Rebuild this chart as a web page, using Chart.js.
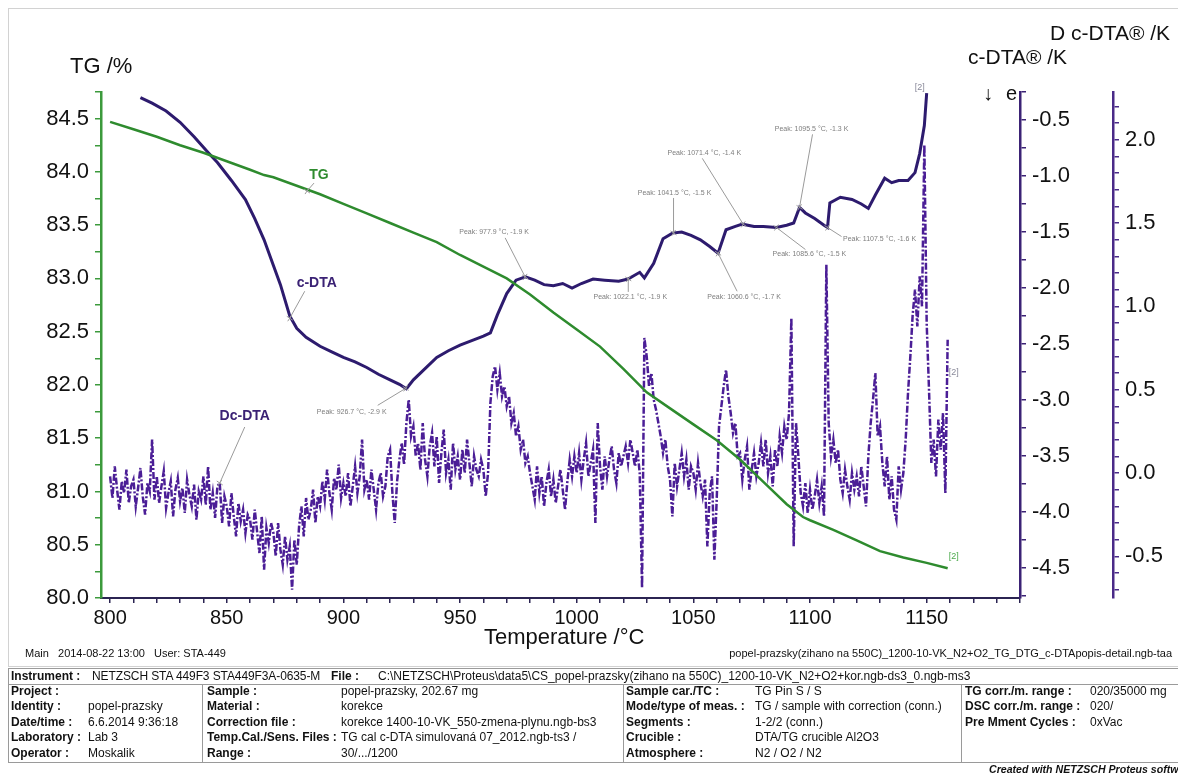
<!DOCTYPE html>
<html><head><meta charset="utf-8">
<script src="https://cdn.jsdelivr.net/npm/chart.js@4/dist/chart.umd.min.js"></script>
<style>
body{margin:0;width:1178px;height:774px;overflow:hidden;background:#fff;font-family:"Liberation Sans",Arial,sans-serif;position:relative;color:#111}
.a{position:absolute;white-space:nowrap;line-height:14px}
.t{position:absolute;white-space:nowrap;color:#111}
.b{font-weight:bold}
.s{font-size:12px}
#frame{position:absolute;left:8px;top:8px;width:1190px;height:657px;border:1px solid #d2d2d2}
#wrap{position:absolute;left:0;top:0;width:1178px;height:650px}
.box{position:absolute;border:1px solid #9a9a9a}
.vl{position:absolute;top:684px;height:78px;width:0;border-left:1px solid #9a9a9a}
</style></head>
<body>
<div id="frame"></div>
<div id="wrap"><canvas id="c" width="1178" height="650"></canvas></div>

<div class="t" style="left:70px;top:54px;font-size:22px;line-height:24px">TG /%</div>
<div class="t" style="left:968px;top:45px;font-size:21px;line-height:24px">c-DTA® /K</div>
<div class="t" style="left:1050px;top:21px;font-size:21px;line-height:24px">D c-DTA® /K</div>
<div class="t" style="left:983px;top:81px;font-size:20px;line-height:24px">↓</div>
<div class="t" style="left:1006px;top:81px;font-size:20px;line-height:24px">e</div>
<div class="t" style="left:484px;top:624px;font-size:22px;line-height:26px">Temperature /°C</div>

<div class="a" style="left:25px;top:646px;font-size:11px">Main&nbsp;&nbsp; 2014-08-22 13:00&nbsp;&nbsp; User: STA-449</div>
<div class="a" style="right:6px;top:646px;font-size:11px">popel-prazsky(zihano na 550C)_1200-10-VK_N2+O2_TG_DTG_c-DTApopis-detail.ngb-taa</div>

<div class="box" style="left:8px;top:668px;width:1190px;height:15px"></div>
<div class="box" style="left:8px;top:684px;width:1190px;height:77px"></div>
<div class="vl" style="left:202px"></div>
<div class="vl" style="left:623px"></div>
<div class="vl" style="left:961px"></div>

<div class="a s" style="left:11px;top:669px"><b>Instrument :</b></div>
<div class="a s" style="left:92px;top:669px;letter-spacing:-0.1px">NETZSCH STA 449F3 STA449F3A-0635-M</div>
<div class="a s" style="left:331px;top:669px"><b>File :</b></div>
<div class="a s" style="left:378px;top:669px">C:\NETZSCH\Proteus\data5\CS_popel-prazsky(zihano na 550C)_1200-10-VK_N2+O2+kor.ngb-ds3_0.ngb-ms3</div>

<div class="a s b" style="left:11px;top:684px">Project :</div>
<div class="a s b" style="left:11px;top:699px">Identity :</div>
<div class="a s" style="left:88px;top:699px">popel-prazsky</div>
<div class="a s b" style="left:11px;top:715px">Date/time :</div>
<div class="a s" style="left:88px;top:715px">6.6.2014 9:36:18</div>
<div class="a s b" style="left:11px;top:730px">Laboratory :</div>
<div class="a s" style="left:88px;top:730px">Lab 3</div>
<div class="a s b" style="left:11px;top:746px">Operator :</div>
<div class="a s" style="left:88px;top:746px">Moskalik</div>

<div class="a s b" style="left:207px;top:684px">Sample :</div>
<div class="a s" style="left:341px;top:684px">popel-prazsky, 202.67 mg</div>
<div class="a s b" style="left:207px;top:699px">Material :</div>
<div class="a s" style="left:341px;top:699px">korekce</div>
<div class="a s b" style="left:207px;top:715px">Correction file :</div>
<div class="a s" style="left:341px;top:715px">korekce 1400-10-VK_550-zmena-plynu.ngb-bs3</div>
<div class="a s b" style="left:207px;top:730px">Temp.Cal./Sens. Files :</div>
<div class="a s" style="left:341px;top:730px">TG cal c-DTA simulovaná 07_2012.ngb-ts3 /</div>
<div class="a s b" style="left:207px;top:746px">Range :</div>
<div class="a s" style="left:341px;top:746px">30/.../1200</div>

<div class="a s b" style="left:626px;top:684px">Sample car./TC :</div>
<div class="a s" style="left:755px;top:684px">TG Pin S / S</div>
<div class="a s b" style="left:626px;top:699px">Mode/type of meas. :</div>
<div class="a s" style="left:755px;top:699px">TG / sample with correction (conn.)</div>
<div class="a s b" style="left:626px;top:715px">Segments :</div>
<div class="a s" style="left:755px;top:715px">1-2/2 (conn.)</div>
<div class="a s b" style="left:626px;top:730px">Crucible :</div>
<div class="a s" style="left:755px;top:730px">DTA/TG crucible Al2O3</div>
<div class="a s b" style="left:626px;top:746px">Atmosphere :</div>
<div class="a s" style="left:755px;top:746px">N2 / O2 / N2</div>

<div class="a s b" style="left:965px;top:684px">TG corr./m. range :</div>
<div class="a s" style="left:1090px;top:684px">020/35000 mg</div>
<div class="a s b" style="left:965px;top:699px">DSC corr./m. range :</div>
<div class="a s" style="left:1090px;top:699px">020/</div>
<div class="a s b" style="left:965px;top:715px">Pre Mment Cycles :</div>
<div class="a s" style="left:1090px;top:715px">0xVac</div>

<div class="a" style="left:989px;top:762px;font-size:10.6px;font-weight:bold;font-style:italic">Created with NETZSCH Proteus software</div>

<script>
// ---------- DATA ----------
const xMajorTicks = [800, 850, 900, 950, 1000, 1050, 1100, 1150];

const tgT = [800,810,820,830,840,850,860,866,870,880,890,900,910,920,930,940,950,960,970,980,990,1000,1010,1020,1030,1040,1050,1060,1070,1080,1090,1097,1100,1110,1120,1130,1140,1150,1159];
const tgV = [84.47,84.40,84.33,84.25,84.18,84.10,84.02,83.97,83.95,83.87,83.79,83.70,83.61,83.52,83.43,83.34,83.22,83.11,83.00,82.85,82.68,82.52,82.36,82.15,81.93,81.78,81.63,81.48,81.30,81.09,80.88,80.76,80.73,80.64,80.54,80.44,80.38,80.33,80.28];

const cdtaT = [813,818,824,830,836,842,846,852,858,862,866,870,873,877,880,884,890,895,900,905,910,915,920,924,927,930,935,940,945,950,955,960,963,966,970,974,978,982,986,990,994,998,1002,1007,1012,1018,1022,1027,1029,1033,1037,1041,1045,1049,1053,1057,1060.6,1064,1068,1071,1076,1080,1085.6,1090,1093,1095.5,1098,1102,1106,1107.5,1108.5,1113,1118,1122,1125,1128,1132,1135,1138,1142,1145,1147,1149,1150];
const cdtaV = [-0.30,-0.35,-0.42,-0.52,-0.65,-0.79,-0.88,-1.04,-1.21,-1.38,-1.57,-1.80,-1.97,-2.25,-2.36,-2.44,-2.52,-2.57,-2.62,-2.66,-2.71,-2.77,-2.82,-2.86,-2.90,-2.82,-2.72,-2.62,-2.56,-2.51,-2.47,-2.43,-2.40,-2.24,-2.05,-1.93,-1.90,-1.93,-1.97,-1.98,-1.96,-2.00,-1.96,-1.92,-1.93,-1.94,-1.92,-1.86,-1.91,-1.78,-1.56,-1.51,-1.50,-1.53,-1.57,-1.63,-1.69,-1.48,-1.45,-1.43,-1.45,-1.45,-1.46,-1.44,-1.42,-1.28,-1.33,-1.38,-1.44,-1.46,-1.24,-1.19,-1.21,-1.25,-1.29,-1.17,-1.02,-1.06,-1.04,-1.04,-0.97,-0.80,-0.55,-0.26];

// Dc-DTA, one reading per °C starting at 800 °C
const ddtaStartT = 800;
const ddtaV = [
-0.02,-0.15,0.04,-0.10,-0.22,-0.05,-0.12,0.02,-0.18,-0.08,
-0.04,-0.20,-0.09,0.03,-0.14,-0.25,-0.06,-0.11,0.20,-0.16,
-0.02,-0.18,-0.08,0.01,-0.21,-0.12,-0.05,-0.26,-0.10,-0.03,
-0.17,-0.09,-0.24,-0.04,-0.13,-0.20,-0.07,-0.28,-0.11,-0.16,
-0.02,-0.19,0.04,-0.22,-0.12,-0.27,-0.08,-0.06,-0.30,-0.14,
-0.20,-0.32,-0.12,-0.26,-0.38,-0.18,-0.29,-0.22,-0.36,-0.25,
-0.28,-0.40,-0.22,-0.35,-0.48,-0.26,-0.58,-0.33,-0.42,-0.30,
-0.36,-0.50,-0.30,-0.46,-0.55,-0.38,-0.52,-0.44,-0.70,-0.40,
-0.55,-0.32,-0.20,-0.38,-0.15,-0.28,-0.22,-0.10,-0.30,-0.14,
-0.20,-0.05,-0.16,0.02,-0.12,-0.22,-0.03,-0.10,0.05,-0.15,
-0.06,-0.14,0.00,-0.20,-0.08,0.04,-0.12,-0.02,0.20,-0.10,
-0.04,-0.16,0.02,-0.10,-0.22,-0.06,0.00,-0.14,-0.08,0.10,
0.14,-0.12,-0.30,-0.05,0.08,0.18,0.05,0.30,0.44,0.22,
0.28,0.10,0.18,0.02,0.30,0.08,-0.02,0.16,0.24,0.04,
0.22,-0.06,0.12,0.26,0.00,0.08,-0.10,0.18,0.02,0.10,
-0.04,0.14,0.00,0.20,0.06,-0.08,0.10,0.02,-0.02,0.08,
0.02,-0.14,0.00,0.42,0.58,0.64,0.50,0.60,0.46,0.52,
0.40,0.46,0.30,0.36,0.22,0.28,0.14,0.20,0.06,0.10,
0.00,-0.08,-0.16,0.04,-0.12,-0.02,-0.20,-0.06,0.02,-0.14,
-0.04,-0.18,-0.08,0.02,-0.10,-0.22,-0.05,0.08,-0.02,0.10,
0.00,0.12,-0.04,0.08,0.18,-0.02,0.06,0.14,-0.30,0.30,
0.04,-0.10,0.10,-0.02,0.08,0.16,0.02,-0.06,0.12,0.04,
0.10,0.16,0.06,0.20,0.12,0.04,0.14,0.00,-0.69,0.81,
0.70,0.52,0.60,0.44,0.38,0.30,0.22,0.12,0.20,0.04,
-0.04,-0.26,0.06,-0.08,0.02,0.12,-0.02,0.08,-0.10,0.04,
0.00,-0.10,0.06,-0.06,-0.14,-0.04,-0.44,-0.12,-0.02,-0.52,
-0.16,0.28,0.40,0.52,0.62,0.46,0.36,0.24,0.30,0.10,
0.12,-0.04,0.08,0.16,-0.10,0.02,0.12,-0.02,0.06,0.18,
0.04,0.20,0.00,0.10,-0.08,0.14,0.04,0.22,0.12,0.28,
0.20,0.36,0.93,-0.44,0.30,0.10,-0.12,-0.20,-0.06,-0.24,
-0.10,-0.22,-0.14,-0.04,-0.18,-0.08,-0.26,1.25,0.30,0.10,
0.20,0.06,0.14,-0.04,-0.12,0.02,-0.08,-0.16,0.00,-0.10,
-0.02,-0.14,0.04,-0.08,-0.20,0.10,0.30,0.44,0.60,0.22,
0.28,0.06,-0.08,0.10,-0.16,-0.02,-0.22,-0.28,0.04,-0.10,
0.00,0.20,0.48,0.70,0.95,1.10,0.88,1.18,1.00,1.97,
0.90,0.50,0.06,0.20,-0.02,0.32,0.14,0.36,-0.12,0.80];

// Peak annotations on c-DTA
const peakT = [926.7, 977.9, 1022.1, 1041.5, 1060.6, 1071.4, 1085.6, 1095.5, 1107.5];
const peakK = [-2.9, -1.9, -1.9, -1.5, -1.7, -1.4, -1.5, -1.3, -1.6];
// label placement (pixel offsets from the peak point): [textDx, textDy, leaderDx, leaderDy]
const peakLayout = [[-54,24,-28,17],[-31,-45,-20,-39],[2,18,0,13],[1,-40,0,-35],[26,44,19,38],[-39,-71,-41,-66],[33,27,29,22],[12,-78,13,-73],[52,12,14,9]];

// ---------- CHART ----------
const FONT = '"Liberation Sans", Arial, sans-serif';
const C_TG = '#2e8b2e', C_CD = '#2d1b6e', C_DD = '#4b1e96';
const AX_TG = '#3c9a3c', AX_CD = '#3b2275', AX_DD = '#4a2a88', AX_X = '#2b2452';

function interp(ts, vs, t){
  for(let i=1;i<ts.length;i++){ if(t<=ts[i]){ const f=(t-ts[i-1])/(ts[i]-ts[i-1]); return vs[i-1]+f*(vs[i]-vs[i-1]); } }
  return vs[vs.length-1];
}
function ticksFrom(a,b,step){ const r=[]; const n=Math.round((b-a)/step); for(let i=0;i<=n;i++) r.push(+(a+i*step).toFixed(4)); return r; }
const isMult = (v,m)=> Math.abs(v/m - Math.round(v/m))<1e-6;

const tgData = tgT.map((t,i)=>({x:t,y:tgV[i]}));
const cdData = cdtaT.map((t,i)=>({x:t,y:cdtaV[i]}));
const ddData = ddtaV.map((v,i)=>({x:ddtaStartT+i,y:v}));

const annot = {
  id:'annot',
  afterDatasetsDraw(chart){
    const ctx = chart.ctx, xs = chart.scales.x, yc = chart.scales.ycd, yt = chart.scales.ytg, yd = chart.scales.ydd;
    ctx.save();
    ctx.lineWidth = 1;
    function cross(x,y,col){ ctx.strokeStyle=col; ctx.beginPath(); ctx.moveTo(x-3,y-2); ctx.lineTo(x+3,y+2); ctx.moveTo(x-2,y+3); ctx.lineTo(x+2,y-3); ctx.stroke(); }
    peakT.forEach((t,i)=>{
      const px = xs.getPixelForValue(t), py = yc.getPixelForValue(interp(cdtaT,cdtaV,t));
      const L = peakLayout[i];
      ctx.strokeStyle = '#9a9a9a';
      ctx.beginPath(); ctx.moveTo(px,py); ctx.lineTo(px+L[2],py+L[3]); ctx.stroke();
      cross(px,py,'#9a9a9a');
      ctx.fillStyle = '#7d7d7d'; ctx.font = '7px '+FONT; ctx.textAlign='center'; ctx.textBaseline='middle';
      ctx.fillText('Peak: '+t.toFixed(1)+' °C, '+peakK[i].toFixed(1)+' K', px+L[0], py+L[1]);
    });
    const labs = [
      {txt:'TG', x:xs.getPixelForValue(884.4), y:yt.getPixelForValue(83.82), col:C_TG, d:[12,-16,7,-8]},
      {txt:'c-DTA', x:xs.getPixelForValue(877), y:yc.getPixelForValue(-2.27), col:AX_CD, d:[27,-35,15,-27]},
      {txt:'Dc-DTA', x:xs.getPixelForValue(847), y:yd.getPixelForValue(-0.06), col:AX_CD, d:[25,-67,25,-56]}
    ];
    labs.forEach(l=>{
      ctx.strokeStyle='#9a9a9a'; ctx.beginPath(); ctx.moveTo(l.x,l.y); ctx.lineTo(l.x+l.d[2],l.y+l.d[3]); ctx.stroke();
      cross(l.x,l.y,'#9a9a9a');
      ctx.fillStyle=l.col; ctx.font='bold 14px '+FONT; ctx.textAlign='center'; ctx.textBaseline='middle';
      ctx.fillText(l.txt, l.x+l.d[0], l.y+l.d[1]);
    });
    ctx.font='9px '+FONT; ctx.textAlign='center'; ctx.textBaseline='middle';
    const ce = cdData[cdData.length-1], te = tgData[tgData.length-1], de = ddData[ddData.length-1];
    ctx.fillStyle='#8a8a9a'; ctx.fillText('[2]', xs.getPixelForValue(ce.x)-7, yc.getPixelForValue(ce.y)-6);
    ctx.fillStyle='#4caa4c'; ctx.fillText('[2]', xs.getPixelForValue(te.x)+6, yt.getPixelForValue(te.y)-12);
    ctx.fillStyle='#8a8a9a'; ctx.fillText('[2]', xs.getPixelForValue(de.x)+6, yd.getPixelForValue(de.y)+33);
    ctx.restore();
  }
};

function yAxis(pos, min, max, step, labStep, color, width, digits){
  return {
    type:'linear', position:pos, min:min, max:max,
    afterBuildTicks: s => { s.ticks = ticksFrom(Math.ceil(min/step-1e-9)*step, Math.floor(max/step+1e-9)*step, step).map(v=>({value:v})); },
    afterFit: s => { s.width = width; },
    ticks:{ autoSkip:false, color:'#111', padding:6, font:{family:FONT, size:22},
      callback: v => isMult(v,labStep) ? (Math.abs(v)<1e-9?0:v).toFixed(digits) : '' },
    grid:{ drawOnChartArea:false, drawTicks:true, tickLength:6, color:color, lineWidth:1.5 },
    border:{ display:true, color:color, width:2.5 }
  };
}

new Chart(document.getElementById('c'), {
  type:'line',
  data:{ datasets:[
    {label:'TG', data:tgData, yAxisID:'ytg', borderColor:C_TG, borderWidth:2.5, pointRadius:0, tension:0, order:1},
    {label:'c-DTA', data:cdData, yAxisID:'ycd', borderColor:C_CD, borderWidth:3, pointRadius:0, tension:0, order:2},
    {label:'Dc-DTA', data:ddData, yAxisID:'ydd', borderColor:C_DD, borderWidth:2.5, borderDash:[7,2,2,2], pointRadius:0, tension:0, order:3}
  ]},
  options:{
    responsive:false, animation:false, devicePixelRatio:1,
    layout:{ padding:{ top:92, left:0, right:0, bottom:0 } },
    plugins:{ legend:{display:false}, tooltip:{enabled:false} },
    scales:{
      x:{ type:'linear', position:'bottom', min:796.1, max:1190,
        afterBuildTicks: s => { s.ticks = ticksFrom(800,1190,10).map(v=>({value:v})); },
        afterFit: s => { s.height = 52; },
        ticks:{ autoSkip:false, maxRotation:0, color:'#111', padding:3, font:{family:FONT, size:20},
          callback: v => xMajorTicks.includes(Math.round(v)) ? String(Math.round(v)) : '' },
        grid:{ drawOnChartArea:false, drawTicks:true, tickLength:5, color:AX_X, lineWidth:1.5 },
        border:{ display:true, color:AX_X, width:2 } },
      ytg: yAxis('left', 80.0, 84.75, 0.25, 0.5, AX_TG, 101, 1),
      ycd: yAxis('right', -4.768, -0.25, 0.25, 0.5, AX_CD, 93, 1),
      ydd: yAxis('right', -0.75, 2.286, 0.1, 0.5, AX_DD, 65, 1)
    }
  },
  plugins:[annot]
});
</script>
</body></html>
